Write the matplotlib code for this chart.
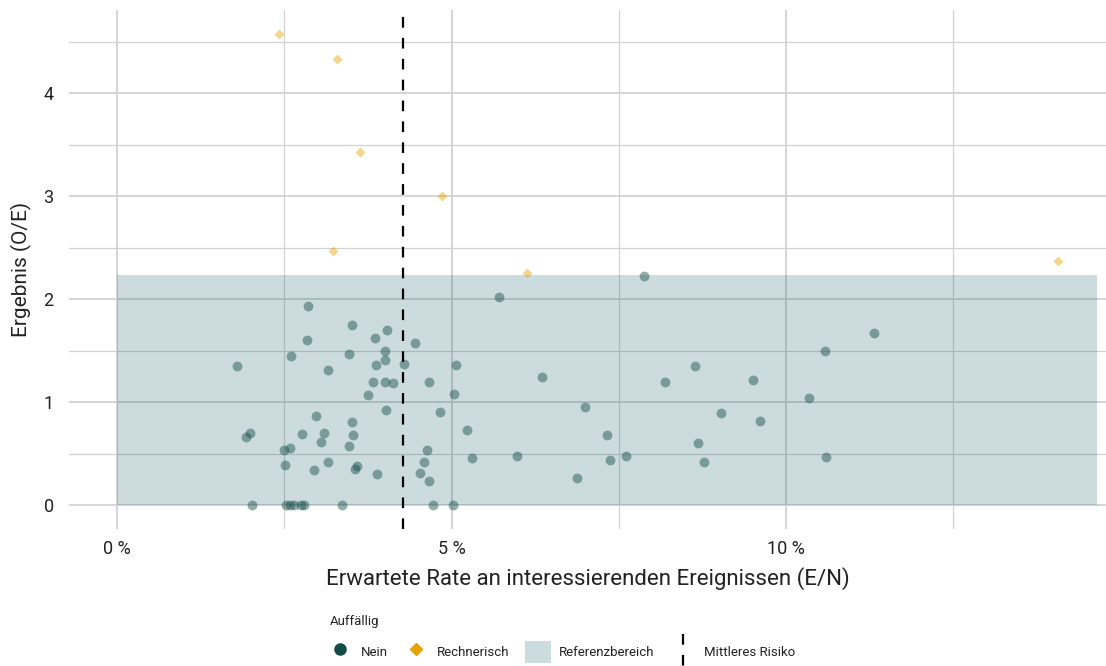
import matplotlib
matplotlib.use("Agg")
import matplotlib.pyplot as plt
from matplotlib.lines import Line2D
from matplotlib.patches import Patch
from matplotlib.legend_handler import HandlerBase

plt.rcParams['font.family'] = ['Roboto', 'DejaVu Sans']

# Erwartete Rate (E/N) in % und Ergebnis (O/E)
rate_nein = [2.86, 3.51, 4.04, 3.85, 2.84, 4.46, 4.00, 2.60, 3.46, 4.01,
             3.87, 4.29, 5.06, 1.79, 3.16, 3.82, 4.00, 4.13, 4.66, 3.75,
             5.04, 4.02, 4.83, 2.98, 3.51, 1.99, 1.93, 2.76, 3.09, 3.52,
             3.05, 3.47, 2.58, 2.50, 4.64, 2.51, 3.15, 4.59, 3.59, 3.56,
             2.95, 3.88, 4.53, 4.67,
             2.02, 2.53, 2.58, 2.64, 2.75, 2.80, 3.36, 4.72, 5.02,
             7.87, 5.71, 6.35, 8.64, 8.19, 9.51, 10.58, 11.32, 10.34, 7.00,
             5.23, 9.02, 9.61, 7.33, 8.69, 5.31, 5.98, 7.37, 7.60, 8.77,
             10.59, 6.87]
oe_nein = [1.93, 1.75, 1.70, 1.62, 1.60, 1.57, 1.50, 1.45, 1.47, 1.41,
           1.36, 1.37, 1.36, 1.35, 1.31, 1.19, 1.19, 1.18, 1.19, 1.07,
           1.08, 0.92, 0.90, 0.86, 0.81, 0.70, 0.66, 0.69, 0.70, 0.68,
           0.61, 0.57, 0.55, 0.53, 0.53, 0.39, 0.42, 0.42, 0.38, 0.35,
           0.34, 0.30, 0.31, 0.23,
           0, 0, 0, 0, 0, 0, 0, 0, 0,
           2.22, 2.02, 1.24, 1.35, 1.19, 1.21, 1.50, 1.67, 1.04, 0.95,
           0.73, 0.89, 0.82, 0.68, 0.60, 0.46, 0.48, 0.44, 0.48, 0.42,
           0.47, 0.26]

rate_rech = [2.42, 3.29, 3.63, 4.86, 3.23, 6.13, 14.07]
oe_rech = [4.57, 4.33, 3.43, 3.00, 2.47, 2.25, 2.37]

ref_lower = 0.0
ref_upper = 2.23
ref_rate_max = 14.65
mean_risk = 4.27

x_ticks = [0, 5, 10]
y_ticks = [0, 1, 2, 3, 4]

col_nein = '#134b48'
col_rech = '#e8a200'
col_band = (0.0, 0.31, 0.35, 0.2)
col_grid = '#d2d2d2'
col_text = '#222222'
vline_dash = (0, (4.8, 4.6))


class HandlerVLine(HandlerBase):
    """Legend key: vertical dashed line like geom_vline."""
    def create_artists(self, legend, orig_handle, xdescent, ydescent,
                       width, height, fontsize, trans):
        xc = width / 2 - xdescent
        line = Line2D([xc, xc], [height - ydescent + 0.35 * height, -ydescent - 0.6 * height],
                      color='black', lw=1.6, linestyle=vline_dash)
        line.set_transform(trans)
        return [line]


fig = plt.figure(figsize=(11.06, 6.66), dpi=100)
ax = fig.add_axes([69 / 1106, 137.4 / 666, 1037 / 1106, 519 / 666])

ax.set_xlim(-0.717, 14.78)
ax.set_ylim(-0.229, 4.81)

# grid
ax.set_xticks(x_ticks)
ax.set_xticks([2.5, 7.5, 12.5], minor=True)
ax.set_yticks(y_ticks)
ax.set_yticks([0.5, 1.5, 2.5, 3.5, 4.5], minor=True)
ax.grid(True, which='major', color=col_grid, lw=1.3, zorder=0)
ax.grid(True, which='minor', color=col_grid, lw=0.9, zorder=0)
ax.set_axisbelow(True)
for s in ax.spines.values():
    s.set_visible(False)
ax.tick_params(which='both', length=0)
ax.tick_params(axis='x', pad=8, labelsize=13, labelcolor=col_text)
ax.tick_params(axis='y', pad=11, labelsize=13, labelcolor=col_text)
ax.set_xticklabels([f'{t} %' for t in x_ticks])
ax.set_yticklabels([str(t) for t in y_ticks])

# Referenzbereich
ax.fill_between([0, ref_rate_max], ref_lower, ref_upper, color=col_band, lw=0, zorder=1)

ax.scatter(rate_nein, oe_nein, s=50, color=col_nein, alpha=0.45, lw=0, zorder=2)
ax.scatter(rate_rech, oe_rech, s=26, marker='D', color=col_rech, alpha=0.45, lw=0, zorder=2)

ax.axvline(mean_risk, color='black', lw=1.6, linestyle=vline_dash, zorder=3)

ax.set_xlabel('Erwartete Rate an interessierenden Ereignissen (E/N)', fontsize=16,
              color=col_text, labelpad=7)
ax.set_ylabel('Ergebnis (O/E)', fontsize=15, color=col_text, labelpad=8)

handles = [
    Line2D([], [], linestyle='none', marker='o', markersize=8, color=col_nein),
    Line2D([], [], linestyle='none', marker='D', markersize=6, color=col_rech),
    Patch(facecolor=col_band, edgecolor='none'),
    Line2D([], [], color='black'),
]
labels = ['Nein', 'Rechnerisch', 'Referenzbereich', 'Mittleres Risiko']
leg = fig.legend(handles, labels, loc='center', bbox_to_anchor=(561 / 1106, 1 - 652 / 666),
                 ncol=4, frameon=False, fontsize=9.5,
                 handlelength=2.0, handleheight=2.1, handletextpad=0.6,
                 columnspacing=1.15, borderpad=0,
                 handler_map={handles[3]: HandlerVLine()})
for t in leg.get_texts():
    t.set_color(col_text)
fig.text(330 / 1106, 1 - 622 / 666, 'Auffällig', fontsize=9.5, color=col_text,
         ha='left', va='center')

fig.savefig('out.png', dpi=100)
